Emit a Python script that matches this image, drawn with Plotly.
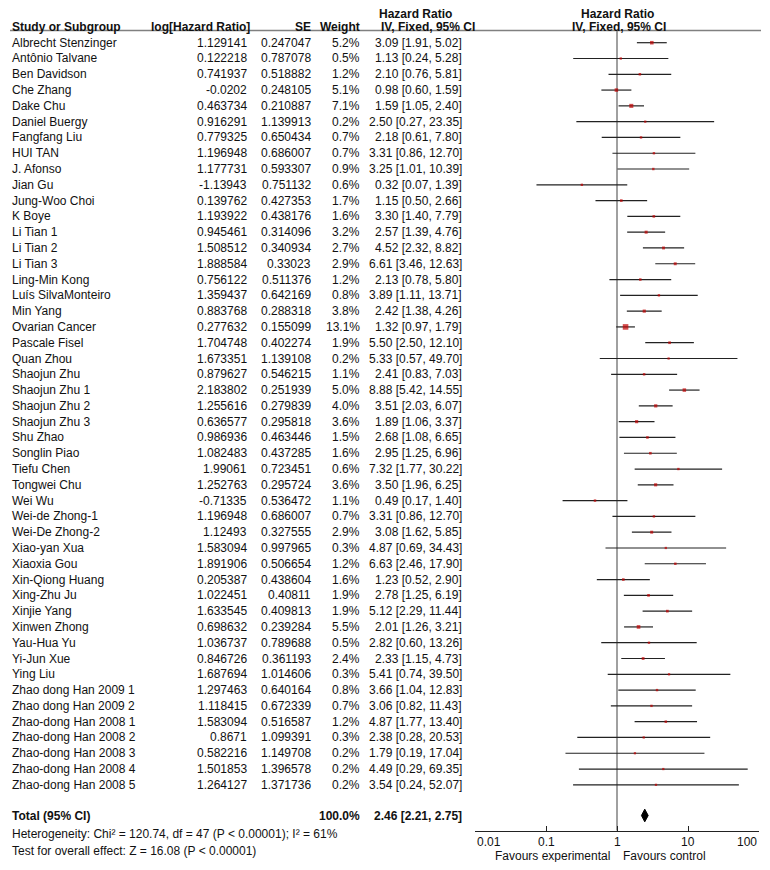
import math
import plotly.graph_objects as go

# ---------------- data ----------------
studies = [
    "Albrecht Stenzinger", "Antônio Talvane", "Ben Davidson", "Che Zhang", "Dake Chu",
    "Daniel Buergy", "Fangfang Liu", "HUI TAN", "J. Afonso", "Jian Gu",
    "Jung-Woo Choi", "K Boye", "Li Tian 1", "Li Tian 2", "Li Tian 3",
    "Ling-Min Kong", "Luís SilvaMonteiro", "Min Yang", "Ovarian Cancer", "Pascale Fisel",
    "Quan Zhou", "Shaojun Zhu", "Shaojun Zhu 1", "Shaojun Zhu 2", "Shaojun Zhu 3",
    "Shu Zhao", "Songlin Piao", "Tiefu Chen", "Tongwei Chu", "Wei Wu",
    "Wei-de Zhong-1", "Wei-De Zhong-2", "Xiao-yan Xua", "Xiaoxia Gou", "Xin-Qiong Huang",
    "Xing-Zhu Ju", "Xinjie Yang", "Xinwen Zhong", "Yau-Hua Yu", "Yi-Jun Xue",
    "Ying Liu", "Zhao dong Han 2009 1", "Zhao dong Han 2009 2", "Zhao-dong Han 2008 1",
    "Zhao-dong Han 2008 2", "Zhao-dong Han 2008 3", "Zhao-dong Han 2008 4", "Zhao-dong Han 2008 5",
]
log_hr = [
    1.129141, 0.122218, 0.741937, -0.0202, 0.463734,
    0.916291, 0.779325, 1.196948, 1.177731, -1.13943,
    0.139762, 1.193922, 0.945461, 1.508512, 1.888584,
    0.756122, 1.359437, 0.883768, 0.277632, 1.704748,
    1.673351, 0.879627, 2.183802, 1.255616, 0.636577,
    0.986936, 1.082483, 1.99061, 1.252763, -0.71335,
    1.196948, 1.12493, 1.583094, 1.891906, 0.205387,
    1.022451, 1.633545, 0.698632, 1.036737, 0.846726,
    1.687694, 1.297463, 1.118415, 1.583094,
    0.8671, 0.582216, 1.501853, 1.264127,
]
se = [
    0.247047, 0.787078, 0.518882, 0.248105, 0.210887,
    1.139913, 0.650434, 0.686007, 0.593307, 0.751132,
    0.427353, 0.438176, 0.314096, 0.340934, 0.33023,
    0.511376, 0.642169, 0.288318, 0.155099, 0.402274,
    1.139108, 0.546215, 0.251939, 0.279839, 0.295818,
    0.463446, 0.437285, 0.723451, 0.295724, 0.536472,
    0.686007, 0.327555, 0.997965, 0.506654, 0.438604,
    0.40811, 0.409813, 0.239284, 0.789688, 0.361193,
    1.014606, 0.640164, 0.672339, 0.516587,
    1.099391, 1.149708, 1.396578, 1.371736,
]
weight = [
    5.2, 0.5, 1.2, 5.1, 7.1,
    0.2, 0.7, 0.7, 0.9, 0.6,
    1.7, 1.6, 3.2, 2.7, 2.9,
    1.2, 0.8, 3.8, 13.1, 1.9,
    0.2, 1.1, 5.0, 4.0, 3.6,
    1.5, 1.6, 0.6, 3.6, 1.1,
    0.7, 2.9, 0.3, 1.2, 1.6,
    1.9, 1.9, 5.5, 0.5, 2.4,
    0.3, 0.8, 0.7, 1.2,
    0.3, 0.2, 0.2, 0.2,
]
total_hr, total_lo, total_hi = 2.46, 2.21, 2.75
total_weight = 100.0
heterogeneity_text = "Heterogeneity: Chi² = 120.74, df = 47 (P < 0.00001); I² = 61%"
overall_text = "Test for overall effect: Z = 16.08 (P < 0.00001)"
tick_vals = [0.01, 0.1, 1, 10, 100]
tick_text = ["0.01", "0.1", "1", "10", "100"]
favours_left = "Favours experimental"
favours_right = "Favours control"

# ---------------- derived ----------------
Z95 = 1.959964
hr = [math.exp(b) for b in log_hr]
lo = [math.exp(b - Z95 * s) for b, s in zip(log_hr, se)]
hi = [math.exp(b + Z95 * s) for b, s in zip(log_hr, se)]
rows = list(range(len(studies)))

# ---------------- layout helpers ----------------
# The page body has an 8px margin; size the figure so the page does not scroll.
OFF = 8
W, H = 770 - OFF, 870 - 2 * OFF
ROW0_PX, ROW_PX = 42.7, 15.79


def prow(px):
    return (px - ROW0_PX) / ROW_PX


def px_x(px):
    return (px - OFF) / W


FONT = "Arial, Liberation Sans, sans-serif"
TXT = "#111111"

fig = go.Figure()

cx, cy = [], []
for r, a, b in zip(rows, lo, hi):
    cx += [a, b, None]
    cy += [r, r, None]
fig.add_trace(go.Scatter(x=cx, y=cy, mode="lines",
                         line=dict(color="#222222", width=1.2),
                         hoverinfo="skip", showlegend=False))

fig.add_trace(go.Scatter(x=hr, y=rows, mode="markers",
                         marker=dict(symbol="square", color="#c00000",
                                     size=[2.2 + 0.26 * w for w in weight],
                                     line=dict(width=0)),
                         showlegend=False))

ytot = prow(815.5)
dh = 0.40
fig.add_trace(go.Scatter(x=[total_lo, total_hr, total_hi, total_hr, total_lo],
                         y=[ytot, ytot - dh, ytot, ytot + dh, ytot],
                         mode="lines", fill="toself", fillcolor="#000000",
                         line=dict(color="#000000", width=1),
                         showlegend=False))

ann = []


def add(text, x_px, y_row, anchor="left", bold=False, size=12):
    ann.append(dict(text=("<b>%s</b>" % text) if bold else text,
                    x=px_x(x_px), xref="paper", y=y_row, yref="y",
                    xanchor=anchor, yanchor="middle", showarrow=False,
                    font=dict(family=FONT, size=size, color=TXT)))


h1, h2 = prow(13.5), prow(26.5)
add("Study or Subgroup", 10, h2, bold=True)
add("log[Hazard Ratio]", 252, h2, "right", bold=True)
add("SE", 313, h2, "right", bold=True)
add("Weight", 362, h2, "right", bold=True)
add("Hazard Ratio", 377, h1, bold=True)
add("IV, Fixed, 95% CI", 379, h2, bold=True)
add("Hazard Ratio", 617, h1, "center", bold=True)
add("IV, Fixed, 95% CI", 619, h2, "center", bold=True)

for r, name, b, s, w, e, a, c in zip(rows, studies, log_hr, se, weight, hr, lo, hi):
    add(name, 10, r)
    add(str(b), 249, r, "right")
    add(str(s), 313, r, "right")
    add("%.1f%%" % w, 362, r, "right")
    add("%.2f [%.2f, %.2f]" % (e, a, c), 464, r, "right")

add("Total (95% CI)", 10, ytot, bold=True)
add("%.1f%%" % total_weight, 362, ytot, "right", bold=True)
add("%.2f [%.2f, %.2f]" % (total_hr, total_lo, total_hi), 464, ytot, "right", bold=True)
add(heterogeneity_text, 10, prow(833.5))
add(overall_text, 10, prow(851))
add(favours_left, 611.5, prow(856), "right")
add(favours_right, 621, prow(856), "left")

# axis tick labels (end labels aligned inward, as in RevMan)
for i, (v, t) in enumerate(zip(tick_vals, tick_text)):
    anchor = "left" if i == 0 else ("right" if i == len(tick_vals) - 1 else "center")
    ann.append(dict(text=t, x=math.log10(v), xref="x", y=prow(842), yref="y",
                    xanchor=anchor, yanchor="middle", showarrow=False,
                    font=dict(family=FONT, size=12, color=TXT)))

fig.update_layout(annotations=ann)

fig.add_shape(type="line", xref="paper", yref="y", x0=px_x(10), x1=px_x(761),
              y0=prow(30.5), y1=prow(30.5), line=dict(color="#808080", width=1.5))
fig.add_shape(type="line", xref="x", yref="y", x0=1, x1=1,
              y0=prow(30.5), y1=prow(830.5), line=dict(color="#808080", width=1.5),
              layer="below")

fig.update_layout(
    width=W, height=H,
    margin=dict(l=0, r=0, t=0, b=0, pad=0, autoexpand=False),
    paper_bgcolor="white", plot_bgcolor="white",
    font=dict(family=FONT, size=12, color=TXT),
    xaxis=dict(type="log", range=[-2, 2], domain=[px_x(475), px_x(759)],
               anchor="free", position=(H - (830.5 - OFF)) / H,
               showline=True, linecolor="#222222", linewidth=1,
               ticks="inside", ticklen=5, tickcolor="#222222",
               tickvals=tick_vals, showticklabels=False,
               showgrid=False, zeroline=False, automargin=False),
    yaxis=dict(range=[prow(H + OFF), prow(OFF)], domain=[0, 1], visible=False,
               showgrid=False, zeroline=False, automargin=False),
    showlegend=False,
)

fig.write_html("out.html")
